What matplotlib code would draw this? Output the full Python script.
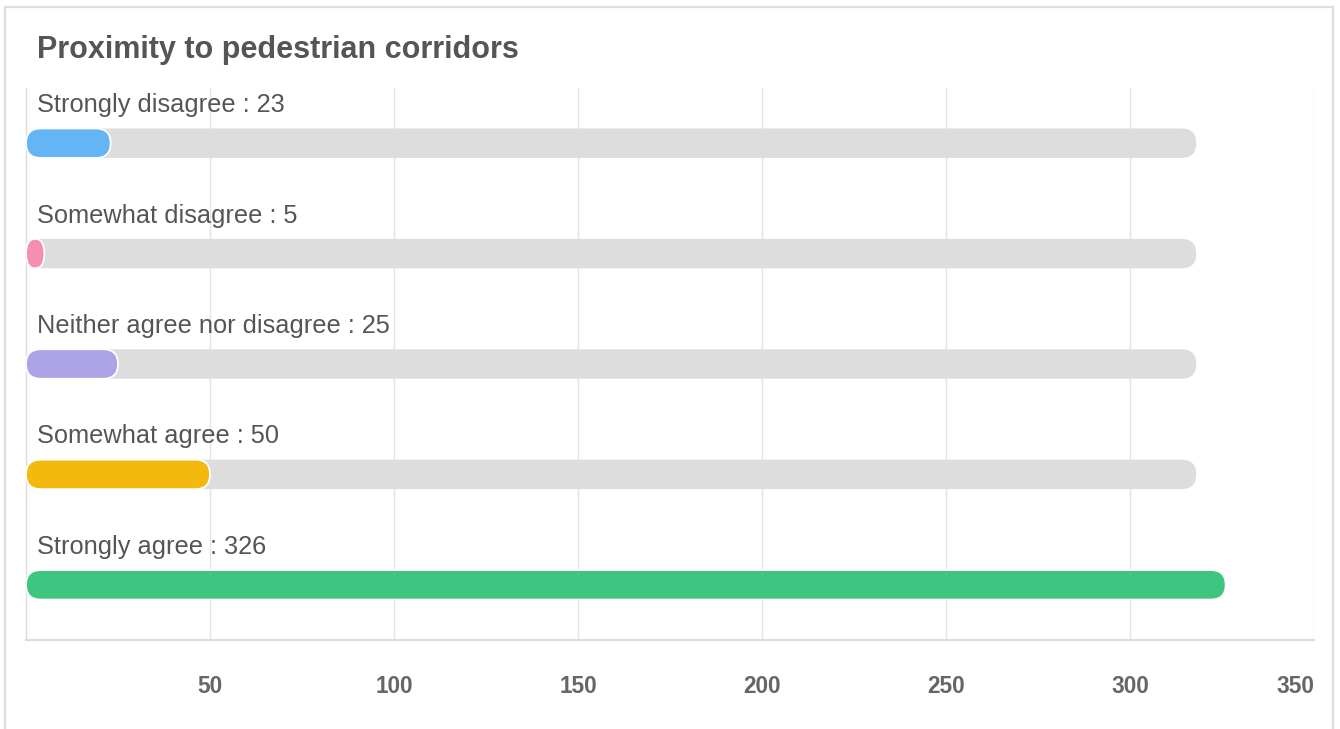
#!/usr/bin/env python3
"""Horizontal progress-style bar chart: proximity to pedestrian corridors."""

import matplotlib
matplotlib.use("Agg")
import matplotlib.pyplot as plt
from matplotlib.lines import Line2D
from matplotlib.patches import FancyBboxPatch

title = "Proximity to pedestrian corridors"
categories = [
    "Strongly disagree",
    "Somewhat disagree",
    "Neither agree nor disagree",
    "Somewhat agree",
    "Strongly agree",
]
counts = [23, 5, 25, 50, 326]
colors = ["#64b5f6", "#f48fb1", "#ada4e6", "#f4b90f", "#40c581"]
track_len = 318
x_ticks = [50, 100, 150, 200, 250, 300, 350]
x_max = 350

W, H, DPI = 1340, 729, 100
plt.rcParams["font.family"] = ["Liberation Sans", "DejaVu Sans"]

fig = plt.figure(figsize=(W / DPI, H / DPI), dpi=DPI)
fig.patch.set_facecolor("white")

# axes box in pixels
ax_l, ax_r, ax_t, ax_b = 26, 1314, 88, 640
ax = fig.add_axes([ax_l / W, 1 - ax_b / H, (ax_r - ax_l) / W, (ax_b - ax_t) / H])
n = len(categories)
ax.set_xlim(0, x_max)
ax.set_ylim(n - 0.5, -0.5)

px_x = (ax_r - ax_l) / x_max
px_y = (ax_b - ax_t) / n
bar_h = 29.5 / px_y
r_px = 14.75


def rounded_bar(y, width, color, edge, z):
    dr = min(width / 2, r_px / px_x)
    aspect = (bar_h / 2) / dr
    p = FancyBboxPatch(
        (0, y - bar_h / 2), width, bar_h,
        boxstyle=f"round,pad=0,rounding_size={dr}",
        mutation_aspect=aspect,
        facecolor=color, edgecolor=edge, linewidth=1.3 if edge != "none" else 0,
        zorder=z,
    )
    ax.add_patch(p)


for i, (cat, val, col) in enumerate(zip(categories, counts, colors)):
    rounded_bar(i, track_len, "#dddddd", "none", 2)
    rounded_bar(i, val, col, "white", 3)
    ax.text(11 / px_x, i - 31 / px_y, f"{cat} : {val}", fontsize=18.3,
            color="#555555", va="baseline", ha="left", zorder=4)

ax.set_xticks(x_ticks)
ax.set_yticks([])
ax.grid(axis="x", color="#e4e4e4", linewidth=1.0, zorder=0)
ax.set_axisbelow(True)
ax.tick_params(axis="x", length=0, pad=25, labelsize=16.3, labelcolor="#666666")
for lbl in ax.get_xticklabels():
    lbl.set_fontweight("bold")
ax.get_xticklabels()[-1].set_ha("right")

for side in ("top", "right"):
    ax.spines[side].set_visible(False)
ax.spines["left"].set_color("#dddddd")
ax.spines["left"].set_linewidth(1.0)
ax.spines["bottom"].set_color("#dddddd")
ax.spines["bottom"].set_linewidth(1.6)

fig.text(37 / W, 1 - 58.3 / H, title, fontsize=22, fontweight="bold",
         color="#555555", va="baseline", ha="left")

# card border
border = dict(transform=fig.transFigure, color="#dddddd", linewidth=1.6)
fig.add_artist(Line2D([5 / W, 5 / W], [0, 1 - 7 / H], **border))
fig.add_artist(Line2D([5 / W, 1333 / W], [1 - 7 / H, 1 - 7 / H], **border))
fig.add_artist(Line2D([1333 / W, 1333 / W], [0, 1 - 7 / H], **border))

fig.savefig("out.png", dpi=DPI)
